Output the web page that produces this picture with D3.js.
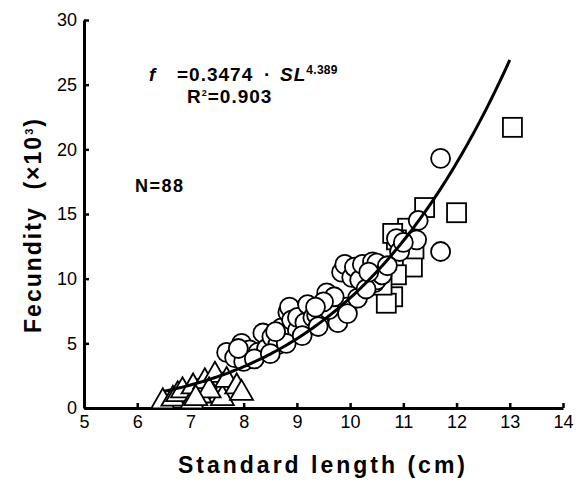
<!DOCTYPE html>
<html>
<head>
<meta charset="utf-8">
<script src="https://cdn.jsdelivr.net/npm/d3@7"></script>
<style>
  body { margin: 0; background: #fff; }
  text { font-family: "Liberation Sans", Arial, sans-serif; }
</style>
</head>
<body>
<svg id="chart"></svg>
<script>
// standard length (cm) vs fecundity (x10^3)
const circles = [
  [7.68, 4.3], [7.83, 3.9], [7.96, 5.0], [8.11, 4.5], [8.27, 4.3], [8.36, 5.8],
  [8.43, 4.6], [8.53, 5.5], [8.64, 4.9], [8.71, 6.2], [8.83, 7.4], [8.86, 7.8],
  [8.9, 6.8], [9.01, 6.0], [9.01, 7.0], [9.15, 6.6], [9.2, 8.0], [9.3, 7.0],
  [9.37, 7.2], [9.56, 8.9], [9.75, 7.0], [9.77, 6.6], [9.84, 10.5], [9.9, 11.1],
  [9.93, 7.8], [9.95, 7.3], [10.03, 10.1], [10.08, 10.9], [10.14, 8.5], [10.18, 9.9],
  [10.23, 11.1], [10.42, 11.3], [10.46, 9.7], [10.5, 11.2], [10.5, 9.9], [10.87, 13.1],
  [10.93, 12.1], [11.25, 13.0], [11.28, 14.5], [11.7, 12.1], [11.7, 19.3], [8.0, 3.6],
  [8.2, 3.8], [8.5, 4.2], [8.8, 5.0], [9.1, 5.6], [9.4, 6.3], [9.6, 7.6],
  [9.7, 8.6], [10.3, 9.2], [10.6, 10.3], [10.7, 11.0], [9.5, 8.2], [7.9, 4.6],
  [8.6, 5.9], [9.35, 7.8], [10.35, 10.5], [11.0, 12.8]
];
const squares = [
  [13.05, 21.7], [12.0, 15.1], [11.4, 15.5], [11.08, 13.9], [10.87, 13.0], [10.98, 11.06],
  [11.17, 10.9], [10.87, 10.3], [10.8, 8.6], [10.68, 8.1], [10.8, 13.5], [11.2, 12.3],
  [10.6, 9.5], [7.2, 1.5], [7.55, 2.0]
];
const triangles = [
  [6.48, 0.75], [6.67, 0.95], [6.76, 1.3], [6.85, 1.6], [7.03, 0.75], [7.05, 1.9],
  [7.18, 1.2], [7.27, 2.3], [7.46, 2.8], [7.6, 1.0], [7.68, 2.4], [7.87, 1.9],
  [7.96, 1.4], [7.35, 1.6], [7.1, 1.0]
];
const xTicks = [5, 6, 7, 8, 9, 10, 11, 12, 13, 14];
const yTicks = [0, 5, 10, 15, 20, 25, 30];
const coefA = 0.3474, coefB = 4.389;
const fitRange = [6.5, 13];

const width = 585, height = 482;
const svg = d3.select("#chart").attr("width", width).attr("height", height);

const x = d3.scaleLinear().domain([5, 14]).range([84, 563]);
const y = d3.scaleLinear().domain([0, 30]).range([408, 20]);

// axes (ticks point inward)
svg.append("g")
  .attr("transform", `translate(0,${y(0)})`)
  .call(d3.axisBottom(x).tickValues(xTicks).tickSize(-5).tickPadding(6).tickSizeOuter(0))
  .call(g => g.select(".domain").attr("stroke-width", 3))
  .call(g => g.selectAll(".tick line").attr("stroke-width", 2.5))
  .call(g => g.selectAll(".tick text").attr("dy", "0.8em").style("font-size", "18px").attr("fill", "#000"));

svg.append("g")
  .attr("transform", `translate(${x(5)},0)`)
  .call(d3.axisLeft(y).tickValues(yTicks).tickSize(-5).tickPadding(7).tickSizeOuter(0))
  .call(g => g.select(".domain").attr("stroke-width", 3))
  .call(g => g.selectAll(".tick line").attr("stroke-width", 2.5))
  .call(g => g.selectAll(".tick text").style("font-size", "18px").attr("fill", "#000"));

// markers
const mk = svg.append("g").attr("fill", "#fff").attr("stroke", "#000").attr("stroke-width", 1.8);

mk.selectAll(".sq").data(squares).join("rect")
  .attr("x", d => x(d[0]) - 9.5).attr("y", d => y(d[1]) - 9.5)
  .attr("width", 19).attr("height", 19);

mk.selectAll(".tri").data(triangles).join("path")
  .attr("d", "M0,-10L11.5,10L-11.5,10Z")
  .attr("transform", d => `translate(${x(d[0])},${y(d[1])})`);

mk.selectAll(".ci").data(circles).join("circle")
  .attr("cx", d => x(d[0])).attr("cy", d => y(d[1])).attr("r", 9.5);

// fitted power curve
const curve = d3.range(fitRange[0], fitRange[1] + 0.001, 0.05).map(s => [s, coefA * Math.pow(s, coefB) / 1000]);
svg.append("path").datum(curve)
  .attr("fill", "none").attr("stroke", "#000").attr("stroke-width", 3)
  .attr("d", d3.line().x(d => x(d[0])).y(d => y(d[1])));

// annotation: one text per piece so the boxes stay apart
const eqStyle = sel => sel.style("font-size", "19px").style("font-weight", "bold").style("letter-spacing", "1px");
svg.append("text").attr("x", 149).attr("y", 81).call(eqStyle).style("font-style", "italic").text("f");
svg.append("text").attr("x", 177).attr("y", 81).call(eqStyle).text("=0.3474");
svg.append("text").attr("x", 264).attr("y", 81).call(eqStyle).text("\u00b7");
const sl = svg.append("text").attr("x", 280).attr("y", 81).call(eqStyle);
sl.append("tspan").style("font-style", "italic").text("SL");
sl.append("tspan").attr("dy", -7).style("font-size", "12px").style("letter-spacing", "0.3px").text("4.389");

const r2 = svg.append("text").attr("x", 187).attr("y", 103).call(eqStyle);
r2.append("tspan").text("R");
r2.append("tspan").attr("dy", -7).style("font-size", "9px").text("2");
r2.append("tspan").attr("dy", 7).text("=0.903");

svg.append("text").attr("x", 135).attr("y", 192)
  .style("font-size", "18px").style("font-weight", "bold").style("letter-spacing", "1.5px").text("N=88");

// axis titles
svg.append("text").attr("x", 323).attr("y", 473).attr("text-anchor", "middle")
  .style("font-size", "23px").style("font-weight", "bold").style("letter-spacing", "3px")
  .text("Standard length (cm)");

const yl = svg.append("text").attr("transform", "translate(41,225) rotate(-90)").attr("text-anchor", "middle")
  .style("font-size", "23px").style("font-weight", "bold").style("letter-spacing", "2px");
yl.append("tspan").text("Fecundity\u00a0\u00a0(\u00d710");
yl.append("tspan").attr("dy", -8).style("font-size", "11px").text("3");
yl.append("tspan").attr("dy", 8).text(")");
</script>
</body>
</html>
